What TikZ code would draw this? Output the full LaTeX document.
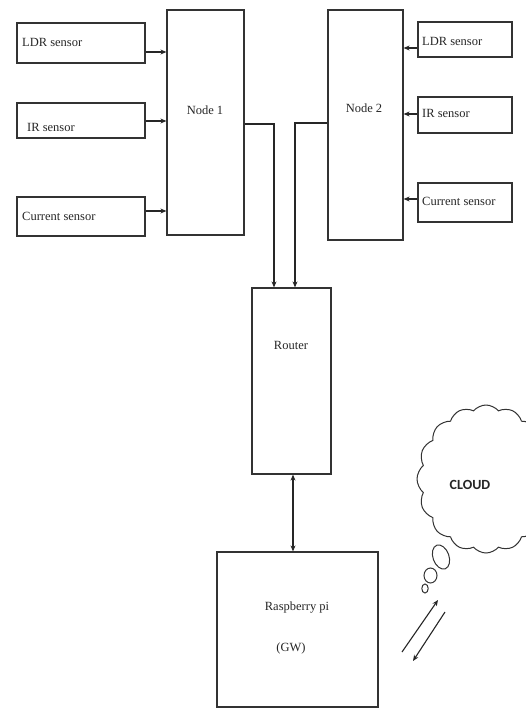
\documentclass[tikz,border=0pt]{standalone}
\usepackage{fontspec}
\setmainfont{Liberation Serif}
\newfontfamily\cloudfont{Carlito}
\usetikzlibrary{arrows.meta,shapes.symbols}
\begin{document}
\begin{tikzpicture}[x=1pt,y=-1pt,
  box/.style={draw=black!80,line width=1.2pt,rectangle,inner sep=0pt},
  lbl/.style={font=\fontsize{12.5}{13}\selectfont,inner sep=0pt,text=black!85},
  conn/.style={draw=black!85,line width=1.1pt},
  arr/.style={conn,-{Stealth[length=6pt,width=5pt]}},
  darr/.style={conn,{Stealth[length=6pt,width=5pt]}-{Stealth[length=6pt,width=5pt]}}]
\useasboundingbox (0,0) rectangle (526,709);
\clip (0,0) rectangle (526,709);
% left sensors
\node[box,minimum width=128pt,minimum height=40pt] (ldr1) at (81,43) {};
\node[box,minimum width=128pt,minimum height=35pt] (ir1) at (81,120.5) {};
\node[box,minimum width=128pt,minimum height=39pt] (cur1) at (81,216.5) {};
\node[lbl,anchor=west] (ldr1t) at (22,42) {LDR sensor};
\node[lbl,anchor=west] (ir1t) at (27,127) {IR sensor};
\node[lbl,anchor=west] (cur1t) at (22,216) {Current sensor};
% node 1
\node[box,minimum width=77pt,minimum height=225pt] (n1) at (205.5,122.5) {};
\node[lbl] (n1t) at (205,110) {Node 1};
% node 2
\node[box,minimum width=75pt,minimum height=230pt] (n2) at (365.5,125) {};
\node[lbl] (n2t) at (364,108) {Node 2};
% right sensors
\node[box,minimum width=94pt,minimum height=35pt] (ldr2) at (465,39.5) {};
\node[box,minimum width=94pt,minimum height=36pt] (ir2) at (465,115) {};
\node[box,minimum width=94pt,minimum height=39pt] (cur2) at (465,202.5) {};
\node[lbl,anchor=west] (ldr2t) at (422,41) {LDR sensor};
\node[lbl,anchor=west] (ir2t) at (422,113) {IR sensor};
\node[lbl,anchor=west] (cur2t) at (422,201) {Current sensor};
% router
\node[box,minimum width=79pt,minimum height=186pt] (rt) at (291.5,381) {};
\node[lbl] (rtt) at (291,345) {Router};
% raspberry
\node[box,minimum width=161pt,minimum height=155pt] (rp) at (297.5,629.5) {};
\node[lbl] (rpt1) at (297,608) {Raspberry pi};
\node[lbl] (rpt2) at (291,648) {(GW)};
% cloud
\node[cloud,cloud puffs=16,cloud puff arc=100,aspect=1,draw=black!80,line width=1pt,
  minimum width=138pt,minimum height=148pt,inner sep=0pt] (cl) at (486,479) {};
\node[font=\cloudfont\bfseries\fontsize{14}{15}\selectfont,text=black!85,inner sep=0pt] (clt) at (470,485) {CLOUD};
\draw[black!80,line width=1pt,rotate around={20:(441,557)}] (441,557) ellipse (8 and 12.5);
\draw[black!80,line width=1pt] (430.5,575.5) ellipse (6.5 and 7.5);
\draw[black!80,line width=1pt] (425,588.5) ellipse (3.2 and 4.5);
% sensor arrows
\draw[arr] (ldr1.east |- 0,52) -- (n1.west |- 0,52);
\draw[arr] (ir1.east |- 0,121) -- (n1.west |- 0,121);
\draw[arr] (cur1.east |- 0,211) -- (n1.west |- 0,211);
\draw[arr] (ldr2.west |- 0,48) -- (n2.east |- 0,48);
\draw[arr] (ir2.west |- 0,114) -- (n2.east |- 0,114);
\draw[arr] (cur2.west |- 0,199) -- (n2.east |- 0,199);
% nodes to router
\draw[arr] (n1.east |- 0,124) -| (rt.north -| 274,0);
\draw[arr] (n2.west |- 0,123) -| (rt.north -| 295,0);
% router - raspberry
\draw[darr] (rt.south -| 293,0) -- (rp.north -| 293,0);
% cloud arrows
\coordinate (u1) at (402,652);
\coordinate (u2) at (438,600);
\coordinate (d1) at (445,612);
\coordinate (d2) at (413,661);
\draw[arr] (u1) -- (u2);
\draw[arr] (d1) -- (d2);
\end{tikzpicture}
\end{document}
